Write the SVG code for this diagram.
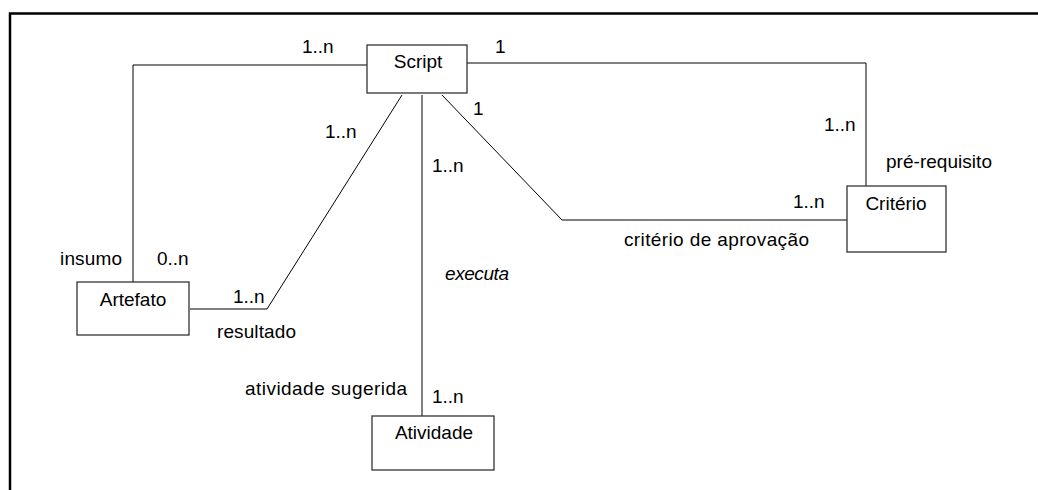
<svg xmlns="http://www.w3.org/2000/svg" width="1038" height="490" viewBox="0 0 1038 490">
<style>
.frame{fill:none;stroke:#000;stroke-width:2.5}
.box{fill:#fff;stroke:#333;stroke-width:1.3}
.conn{fill:none;stroke:#000;stroke-width:1}
text{font-family:"Liberation Sans",Arial,sans-serif;font-size:19px;fill:#000}
.c{text-anchor:middle}
.i{font-style:italic}
</style>
<rect width="1038" height="490" fill="#fff"/>
<path class="frame" d="M10,490 V13.5 H1038"/>
<g id="connectors">
<path class="conn" d="M367,65 H133 V282"/>
<path class="conn" d="M467,63 H866 V186"/>
<path class="conn" d="M402,95 L267,309 H190"/>
<path class="conn" d="M422,95 V416"/>
<path class="conn" d="M442,95 L562,220 H847"/>
</g>
<g id="labels">
<text x="302" y="53">1..n</text>
<text x="495" y="53">1</text>
<text x="325" y="138">1..n</text>
<text x="473" y="115">1</text>
<text x="432" y="172">1..n</text>
<text x="824" y="131">1..n</text>
<text x="886" y="168" textLength="106">pré-requisito</text>
<text x="793" y="208">1..n</text>
<text x="624" y="246" textLength="185">critério de aprovação</text>
<text x="60" y="265" textLength="62">insumo</text>
<text x="157" y="265">0..n</text>
<text class="i" x="445" y="280" textLength="64">executa</text>
<text x="233" y="303">1..n</text>
<text x="217" y="338" textLength="79">resultado</text>
<text x="245" y="395" textLength="162">atividade sugerida</text>
<text x="432" y="403">1..n</text>
</g>
<g id="script">
<rect class="box" x="367" y="45" width="100" height="48"/>
<text class="c" x="418" y="68">Script</text>
</g>
<g id="artefato">
<rect class="box" x="77" y="282" width="112" height="53"/>
<text class="c" x="133" y="306">Artefato</text>
</g>
<g id="criterio">
<rect class="box" x="847" y="186" width="99" height="66"/>
<text class="c" x="896" y="210">Critério</text>
</g>
<g id="atividade">
<rect class="box" x="372" y="416" width="122" height="54"/>
<text class="c" x="434" y="439">Atividade</text>
</g>
</svg>
